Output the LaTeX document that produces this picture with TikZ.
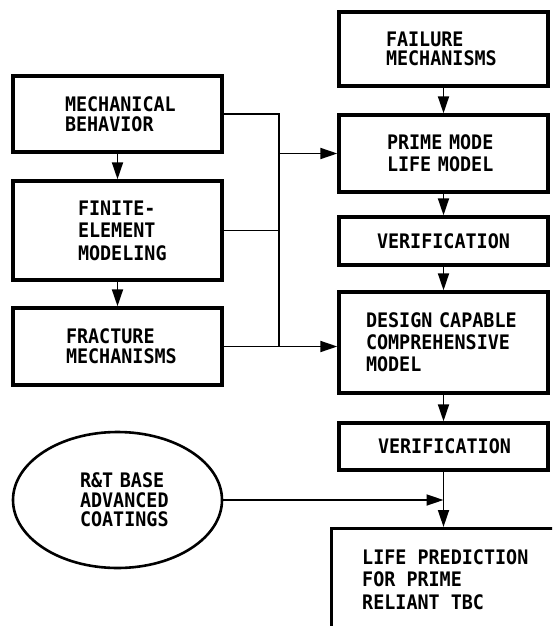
\documentclass[tikz,border=0pt]{standalone}
\usepackage{fontspec}
\newfontfamily\plotfont{DejaVu Sans Mono}[FakeStretch=0.92]
\newcommand\plotsize[1]{\plotfont\bfseries\fontsize{20}{#1}\selectfont}
\usetikzlibrary{shapes.geometric,arrows.meta}
\begin{document}
\begin{tikzpicture}[x=1pt,y=-1pt,
  box/.style={draw, line width=3.4pt, rectangle, align=left, inner sep=0pt, minimum width=209pt},
  conn/.style={line width=1.8pt},
  arr/.style={conn, -{Triangle[length=17pt,width=11pt]}}]
\useasboundingbox (0,0) rectangle (552,626);
\clip (0,0) rectangle (552,626);
\fill[white] (0,0) rectangle (552,626);
% left column
\node[box, minimum height=76pt, text width=105pt, font=\plotsize{19.5}] (mech) at (117.5,114) {MECHANICAL\\BEHAVIOR};
\node[box, minimum height=99pt, text width=79pt, font=\plotsize{22.5}] (fem) at (117.5,230.5) {FINITE-\\ELEMENT\\MODELING};
\node[box, minimum height=77pt, text width=103pt, font=\plotsize{20}] (frac) at (117.5,346.5) {FRACTURE\\MECHANISMS};
% right column
\node[box, minimum height=74pt, text width=115pt, font=\plotsize{19.5}] (fail) at (443.5,49) {FAILURE\\MECHANISMS};
\node[box, minimum height=77pt, text width=113pt, font=\plotsize{22}] (prime) at (443.5,153.5) {PRIME~MODE\\LIFE~MODEL};
\node[box, minimum height=48pt, text width=133pt, font=\plotsize{20}] (ver1) at (443.5,241) {VERIFICATION};
\node[box, minimum height=101pt, text width=155pt, font=\plotsize{22}] (design) at (443.5,342.5) {DESIGN~CAPABLE\\COMPREHENSIVE\\MODEL};
\node[box, minimum height=47pt, text width=131pt, font=\plotsize{20}] (ver2) at (443.5,446.5) {VERIFICATION};
\node[box, anchor=north west, minimum width=300pt, minimum height=200pt] (life) at (330,527) {};
\node[anchor=north west, align=left, inner sep=0pt, font=\plotsize{22.5}] (lifetext) at (362,549) {LIFE~PREDICTION\\FOR~PRIME\\RELIANT~TBC};
% ellipse
\node[draw, ellipse, line width=2.6pt, minimum width=209pt, minimum height=136pt, inner sep=0pt, text width=75pt, align=left, font=\plotsize{19.5}] (coat) at (117.5,500) {R\&T~BASE\\ADVANCED\\COATINGS};
% bus
\coordinate (busx) at (279,0);
% connectors
\draw[arr] (mech.south) -- (fem.north);
\draw[arr] (fem.south) -- (frac.north);
\draw[arr] (fail.south) -- (prime.north);
\draw[arr] (prime.south) -- (ver1.north);
\draw[arr] (ver1.south) -- (design.north);
\draw[arr] (design.south) -- (ver2.north);
\draw[arr] (ver2.south) -- (ver2.south |- life.north);
\draw[conn] (mech.east) -- (mech.east -| busx) -- (frac.east -| busx);
\draw[conn] (fem.east) -- (fem.east -| busx);
\draw[arr] (prime.west -| busx) -- (prime.west);
\draw[arr] (frac.east) -- (frac.east -| design.west);
\draw[arr] (coat.east) -- (coat.east -| ver2.south);
\end{tikzpicture}
\end{document}
